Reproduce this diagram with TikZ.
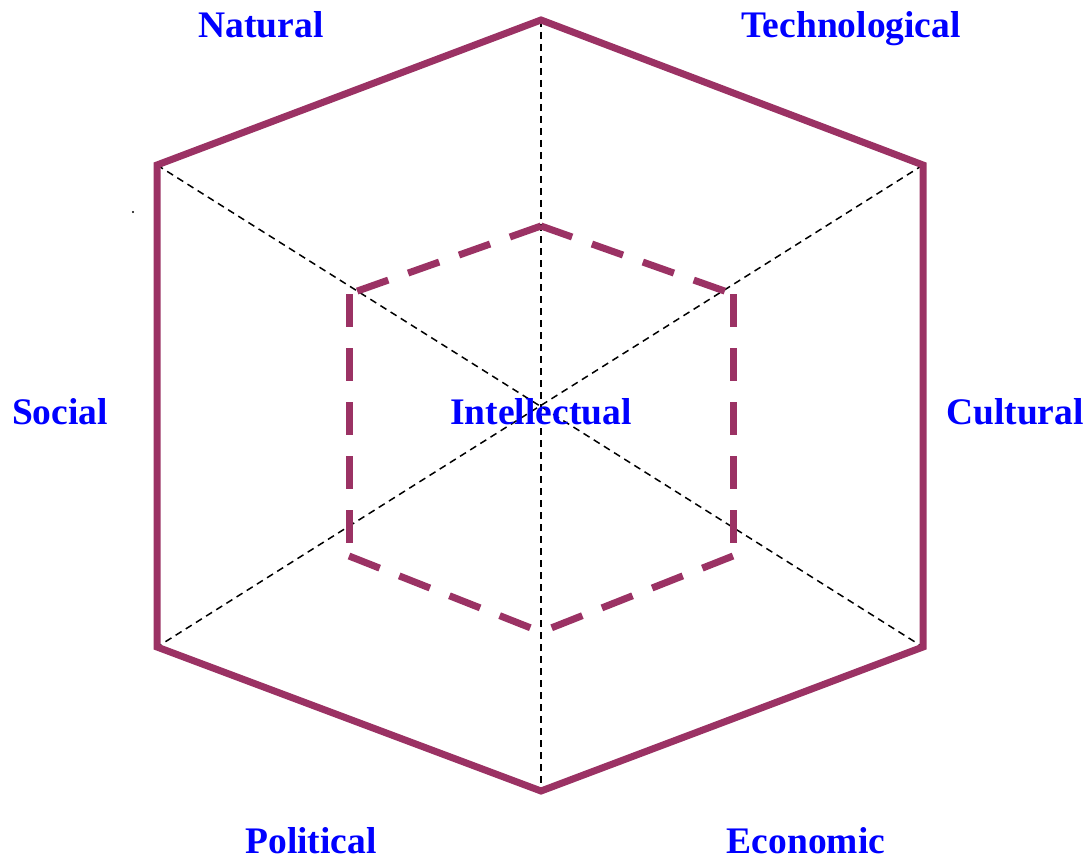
\documentclass[tikz,border=0pt]{standalone}
\usepackage{fontspec}
\setmainfont{Liberation Serif}
\definecolor{hexc}{RGB}{155,50,100}
\definecolor{lbl}{RGB}{0,0,255}
\begin{document}
\begin{tikzpicture}[x=1pt,y=-1pt,
  outer/.style={draw=hexc,line width=7pt,line join=miter},
  inner/.style={draw=hexc,line width=7pt,dash pattern=on 33pt off 21pt},
  axis/.style={draw=black,line width=1.5pt,dash pattern=on 7pt off 5pt},
  lab/.style={text=lbl,font=\fontsize{37.5}{44}\selectfont\bfseries,anchor=base,inner sep=0pt}]
\useasboundingbox (0,0) rectangle (1089,861);
% outer vertices
\coordinate (T) at (541,20);
\coordinate (UR) at (923,165);
\coordinate (LR) at (923,647);
\coordinate (B) at (541,791);
\coordinate (LL) at (157,647);
\coordinate (UL) at (157,165);
% inner vertices
\coordinate (iT) at (541,226);
\coordinate (iUR) at (733,294);
\coordinate (iLR) at (733,556);
\coordinate (iB) at (541,632);
\coordinate (iLL) at (349,556);
\coordinate (iUL) at (349,294);
% axes
\draw[axis] (T) -- (B);
\draw[axis] (UL) -- (LR);
\draw[axis] (UR) -- (LL);
% hexagons
\draw[outer] (T) -- (UR) -- (LR) -- (B) -- (LL) -- (UL) -- cycle;
\draw[inner] (iT) -- (iUR);
\draw[inner] (iT) -- (iUL);
\draw[inner] (iUR) -- (iLR);
\draw[inner] (iUL) -- (iLL);
\draw[inner] (iLL) -- (iB);
\draw[inner] (iLR) -- (iB);
% stray dot
\fill[black] (133,212) circle (1.2pt);
% labels
\node[lab] (nat) at (261,38) {Natural};
\node[lab] (tec) at (851,38) {Technological};
\node[lab] (soc) at (60,424) {Social};
\node[lab] (cul) at (1015,424) {Cultural};
\node[lab] (int) at (541,424) {Intellectual};
\node[lab] (pol) at (311,853) {Political};
\node[lab] (eco) at (806,853) {Economic};
\end{tikzpicture}
\end{document}
